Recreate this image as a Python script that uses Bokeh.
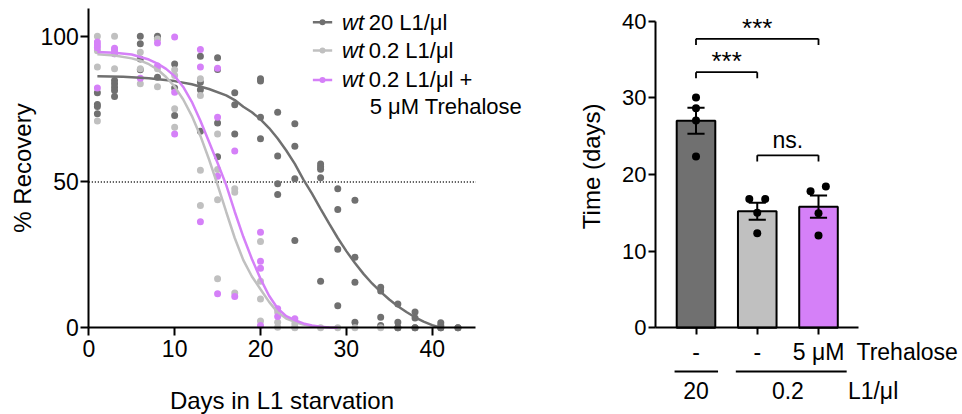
import math
from bokeh.plotting import figure
from bokeh.layouts import row
from bokeh.models import Range1d, FixedTicker
from bokeh.embed import file_html
from bokeh.resources import INLINE
from bokeh.core.properties import value

FONT = "Liberation Sans"

C_DARK = "#707070"
C_LIGHT = "#c0c0c0"
C_PINK = "#d580f8"

# ---------------- left panel data: % recovery by day ----------------
DAYS_20 = [1, 3, 6, 8, 10, 13, 15, 17, 20, 22, 24, 27, 29, 31, 34, 36, 38, 41, 43]
REC_20 = [
    [80.6, 76.6, 75.9, 73.4],
    [84.8, 83.7, 82.5, 81.4, 79.3],
    [100, 97.4, 92.2, 88.5],
    [100, 99.3, 85.9],
    [90.5, 82.2, 72.8],
    [93.1, 84.2, 81.6, 67.4],
    [92.6, 88.6, 70.2, 58.7],
    [80.6, 76.5, 66.5],
    [85.4, 84.6, 72.2, 64.8],
    [73.9, 58.9, 49.4, 45.7],
    [70.0, 62.3, 51.1, 29.9],
    [56.2, 55.2, 54.4, 51.5, 16.0],
    [47.7, 40.6, 26.9, 7.6],
    [43.7, 24.2, 15.6, 1.9],
    [13.9, 12.6, 3.6, 0.8],
    [8.2, 1.9, 0, 0],
    [5.4, 3.4, 0, 0],
    [1.7, 0.8, 0, 0],
    [0, 0],
]

DAYS_02 = [1, 3, 6, 8, 10, 13, 15, 17, 20, 22, 24, 27, 29, 31, 34]
REC_02 = [
    [100, 95, 89.4, 70.9],
    [100, 95.5, 94, 88.8],
    [94.5, 88.8, 83.7],
    [99, 88.8, 82.7],
    [88.5, 86.5, 75.1, 68.8],
    [85.4, 79.7, 54.0, 41.9],
    [66.5, 54.3, 43.9, 16.8],
    [47.7, 46.5, 11.9],
    [29.6, 16.0, 9.9, 2.3],
    [5.4, 1.9, 0.2],
    [1.4, 0.2, 0],
    [0],
    [0],
    [0],
    [0],
]

DAYS_TRE = [1, 3, 6, 8, 10, 13, 15, 17, 20, 22, 24]
REC_TRE = [
    [98, 97, 96, 82.2],
    [95.9, 95.0, 94.0],
    [85.6],
    [97.7, 89.8],
    [99.7, 80.8, 66.5],
    [95.4, 89.4, 36.4],
    [89.0, 72.2, 52.0, 11.7],
    [60.6, 10.7],
    [32.8, 22.8, 20.4, 0.8],
    [6.5, 3.9],
    [3.1],
]

# fitted curves
CURVE_20_X = [1, 4, 7, 10, 12, 14, 16, 17, 18, 19, 20, 21, 22, 23, 24, 25, 26, 27, 28, 29,
              30, 31, 32, 33, 34, 35, 36, 37, 38, 39, 40, 41]
CURVE_20_Y = [86.3, 86.1, 85.6, 84.6, 83.5, 81.9, 79.7, 78.1, 75.8, 73.9, 71.5, 68.5, 64.9,
              60.8, 56.2, 50.8, 46.0, 40.8, 35.7, 30.8, 26.3, 22.2, 18.5, 15.2, 12.3, 9.7,
              7.4, 5.4, 3.6, 2.1, 0.9, 0.0]

CURVE_02_X = [1, 3, 5, 6, 7, 8, 9, 10, 11, 12, 13, 14, 15, 16, 17, 18, 19, 20, 21, 22, 23,
              24, 25, 26, 27, 28, 29]
CURVE_02_Y = [93.8, 93.4, 92.4, 91.6, 90.4, 88.6, 86.0, 82.7, 78.3, 72.7, 65.8, 57.8, 49.0,
              39.8, 30.8, 23.2, 17.6, 13.2, 8.9, 5.3, 3.2, 2.0, 1.1, 0.6, 0.3, 0.1, 0.0]

CURVE_TRE_X = [1, 3, 5, 7, 8, 9, 10, 11, 12, 13, 14, 15, 16, 17, 18, 19, 20, 21, 22, 23,
               24, 25, 26, 27, 28, 29]
CURVE_TRE_Y = [94.6, 94.3, 93.7, 92.0, 90.6, 88.8, 86.3, 82.6, 77.5, 71.0, 63.8, 56.5, 49.0,
               39.8, 31.2, 23.6, 16.8, 11.0, 6.6, 4.0, 2.6, 1.5, 0.8, 0.4, 0.1, 0.0]

LEGEND_WT = ["wt", "wt", "wt"]
LEGEND_REST = ["20 L1/μl", "0.2 L1/μl", "0.2 L1/μl +", "5 μM Trehalose"]

# ---------------- right panel data ----------------
BAR_POS = [1, 2, 3]
BAR_MEAN = [27.0, 15.2, 15.8]
BAR_SEM = [1.7, 1.1, 1.45]
BAR_DOTS = [
    [30.05, 28.65, 27.05, 22.35],
    [16.8, 16.8, 15.0, 12.35],
    [17.8, 18.45, 14.95, 12.05],
]
DOT_JITTER = [
    [0, 0, 0, 0],
    [-0.13, 0.13, 0, 0],
    [-0.13, 0.12, 0, 0],
]
TREAT_LABELS = ["-", "-", "5 μM"]
DENSITY_LABELS = ["20", "0.2"]
SIG_PAIRS = [(1, 3), (1, 2), (2, 3)]
SIG_LEVEL = [37.7, 33.35, 22.5]
SIG_TEXT = ["***", "***", "ns."]


def flat(days, rec):
    xs, ys = [], []
    for d, vals in zip(days, rec):
        for v in vals:
            xs.append(d)
            ys.append(v)
    return xs, ys


def style_axis(ax, size):
    ax.axis_line_width = 2
    ax.axis_line_color = "black"
    ax.major_tick_line_width = 2
    ax.major_tick_line_color = "black"
    ax.minor_tick_line_color = None
    ax.major_tick_in = 0
    ax.major_tick_out = 8
    ax.major_label_text_font = FONT
    ax.major_label_text_font_size = size
    ax.major_label_text_color = "black"
    ax.axis_label_text_font = FONT
    ax.axis_label_text_font_style = "normal"
    ax.axis_label_text_color = "black"
    ax.axis_label_text_font_size = "24px"


# ================= left figure =================
p1 = figure(width=540, height=414, x_range=Range1d(-10.285, 52.615),
            y_range=Range1d(-29.733, 112.243), output_backend="svg",
            toolbar_location=None, min_border=0)
p1.outline_line_color = None
p1.grid.visible = False

xa = p1.xaxis[0]
ya = p1.yaxis[0]
for ax in (xa, ya):
    style_axis(ax, "23px")
xa.fixed_location = 0
xa.bounds = (0, 45.1)
xa.ticker = FixedTicker(ticks=[0, 10, 20, 30, 40])
xa.major_label_standoff = 4
xa.axis_label = "Days in L1 starvation"
xa.axis_label_standoff = 27
ya.fixed_location = 0
ya.bounds = (0, 109.5)
ya.ticker = FixedTicker(ticks=[0, 50, 100])
ya.major_label_standoff = 2
ya.axis_label = "% Recovery"
ya.axis_label_standoff = 1

p1.segment(x0=[0], y0=[50], x1=[45.1], y1=[50], line_color="black",
           line_width=1.5, line_dash="1 2")

for days, rec, col in [
    (DAYS_20, REC_20, C_DARK),
    (DAYS_02, REC_02, C_LIGHT),
    (DAYS_TRE, REC_TRE, C_PINK),
]:
    xs, ys = flat(days, rec)
    p1.scatter(xs, ys, size=7, fill_color=col, line_color=None)

for cx, cy, col in [
    (CURVE_20_X, CURVE_20_Y, C_DARK),
    (CURVE_02_X, CURVE_02_Y, C_LIGHT),
    (CURVE_TRE_X, CURVE_TRE_Y, C_PINK),
]:
    p1.line(cx, cy, line_color=col, line_width=2.5)

# legend (drawn by hand: italic "wt")
LEG_Y = [104.8, 95.1, 85.0, 75.9]
LEG_COLS = [C_DARK, C_LIGHT, C_PINK]
p1.segment(x0=[26.1] * 3, y0=LEG_Y[:3], x1=[28.35] * 3, y1=LEG_Y[:3],
           line_color=LEG_COLS, line_width=2.5)
p1.scatter([27.22] * 3, LEG_Y[:3], size=6, fill_color=LEG_COLS, line_color=None)
p1.text(x=[29.5] * 3, y=LEG_Y[:3], text=LEGEND_WT, text_font=value(FONT),
        text_font_size=value("22px"), text_font_style="italic",
        text_baseline="middle", text_align="left", text_color="black")
p1.text(x=[32.6, 32.6, 32.6, 32.72], y=LEG_Y, text=LEGEND_REST, text_font=value(FONT),
        text_font_size=value("22px"), text_baseline="middle", text_align="left",
        text_color="black")

# ================= right figure =================
p2 = figure(width=422, height=414, x_range=Range1d(-1.5388, 5.3510),
            y_range=Range1d(-11.311, 42.70), output_backend="svg",
            toolbar_location=None, min_border=0)
p2.outline_line_color = None
p2.grid.visible = False

xb = p2.xaxis[0]
yb = p2.yaxis[0]
for ax in (xb, yb):
    style_axis(ax, "22px")
xb.fixed_location = 0
xb.bounds = (0.339, 3.66)
xb.ticker = FixedTicker(ticks=BAR_POS)
xb.major_tick_out = 7
xb.major_label_overrides = {p: t for p, t in zip(BAR_POS, TREAT_LABELS)}
xb.major_label_text_font_size = "23px"
xb.major_label_standoff = 4
yb.fixed_location = 0.339
yb.bounds = (0, 40)
yb.ticker = FixedTicker(ticks=[0, 10, 20, 30, 40])
yb.major_tick_out = 7
yb.major_label_standoff = 2

p2.vbar(x=BAR_POS, top=BAR_MEAN, bottom=0, width=0.63,
        fill_color=[C_DARK, C_LIGHT, C_PINK], line_color="black", line_width=2)

lo = [m - s for m, s in zip(BAR_MEAN, BAR_SEM)]
hi = [m + s for m, s in zip(BAR_MEAN, BAR_SEM)]
p2.segment(x0=BAR_POS, y0=lo, x1=BAR_POS, y1=hi, line_color="black", line_width=2)
cap = 0.14
p2.segment(x0=[x - cap for x in BAR_POS], y0=lo, x1=[x + cap for x in BAR_POS], y1=lo,
           line_color="black", line_width=2)
p2.segment(x0=[x - cap for x in BAR_POS], y0=hi, x1=[x + cap for x in BAR_POS], y1=hi,
           line_color="black", line_width=2)

dx, dy = [], []
for pos, vals, jit in zip(BAR_POS, BAR_DOTS, DOT_JITTER):
    for v, j in zip(vals, jit):
        dx.append(pos + j)
        dy.append(v)
p2.scatter(dx, dy, size=8, fill_color="black", line_color=None)

# significance brackets
tick_len = 0.8
bx0, by0, bx1, by1 = [], [], [], []
for (a, b), lvl in zip(SIG_PAIRS, SIG_LEVEL):
    bx0 += [a, a, b]
    by0 += [lvl, lvl - tick_len, lvl - tick_len]
    bx1 += [b, a, b]
    by1 += [lvl, lvl, lvl]
p2.segment(x0=bx0, y0=by0, x1=bx1, y1=by1, line_color="black", line_width=1.8)
p2.text(x=[(a + b) / 2 for a, b in SIG_PAIRS[:2]], y=[l + 1.45 for l in SIG_LEVEL[:2]],
        text=SIG_TEXT[:2], text_font=value(FONT), text_font_size=value("26px"),
        text_align="center", text_baseline="alphabetic", text_color="black")
p2.text(x=[2.5], y=[SIG_LEVEL[2] + 1.95], text=[SIG_TEXT[2]], text_font=value(FONT),
        text_font_size=value("23px"), text_align="center", text_baseline="alphabetic",
        text_color="black")

# labels under the axis
p2.text(x=[3.62], y=[-3.1], text=["Trehalose"], text_font=value(FONT),
        text_font_size=value("23px"), text_align="left", text_baseline="middle",
        text_color="black")
p2.segment(x0=[0.65, 1.65], y0=[-5.7, -5.7], x1=[1.36, 3.46], y1=[-5.7, -5.7],
           line_color="black", line_width=2)
p2.text(x=[1, 2.5], y=[-8.2, -8.2], text=DENSITY_LABELS, text_font=value(FONT),
        text_font_size=value("23px"), text_align="center", text_baseline="middle",
        text_color="black")
p2.text(x=[3.48], y=[-8.2], text=["L1/μl"], text_font=value(FONT),
        text_font_size=value("23px"), text_align="left", text_baseline="middle",
        text_color="black")
p2.text(x=[-0.706], y=[21.07], text=["Time (days)"], angle=math.pi / 2,
        text_font=value(FONT), text_font_size=value("24px"), text_align="center",
        text_baseline="middle", text_color="black")

layout = row(p1, p2)
open("out.html", "w").write(file_html(layout, INLINE))
